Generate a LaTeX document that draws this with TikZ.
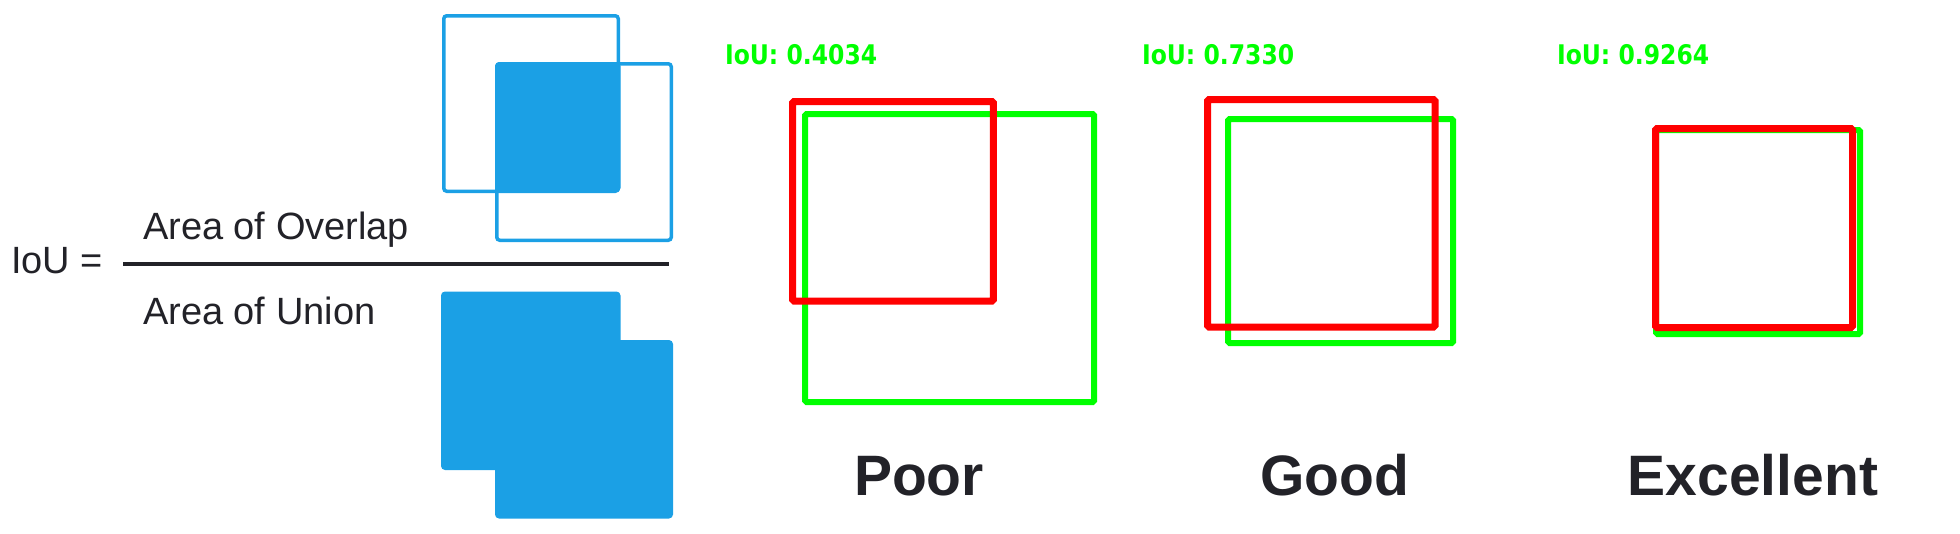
\documentclass[tikz,border=0pt]{standalone}
\usepackage{fontspec}
\usepackage{graphicx}
\setmainfont{Liberation Sans}
\newfontfamily\cvfont{DejaVu Sans}
\definecolor{iouBlue}{RGB}{27,160,229}
\definecolor{inkDark}{RGB}{34,34,40}
\definecolor{cvGreen}{RGB}{0,255,0}
\definecolor{cvRed}{RGB}{255,0,0}
\begin{document}
\begin{tikzpicture}[x=1pt,y=-1pt,
  txt/.style={inner sep=0pt, outer sep=0pt, text=inkDark},
  formula/.style={txt, anchor=base west, font=\fontsize{38}{40}\selectfont},
  verdict/.style={txt, anchor=base, font=\fontsize{57}{60}\selectfont\bfseries},
  score/.style={inner sep=0pt, outer sep=0pt, anchor=base west, text=cvGreen, font=\cvfont\bfseries\fontsize{23.5}{25}\selectfont},
  gtbox/.style={draw=cvGreen, line width=6pt, rounded corners=1.5pt},
  predbox/.style={draw=cvRed, line width=7pt, rounded corners=1.5pt},
  bluebox/.style={draw=iouBlue, line width=3.5pt, rounded corners=3pt},
  bluefill/.style={fill=iouBlue, rounded corners=4pt},
  fracline/.style={draw=inkDark, line width=3.4pt},
]
\useasboundingbox (0,0) rectangle (1960,533);

% formula
\node[formula] (iou) at (11,273) {IoU =};
\node[formula] (num) at (143,239) {Area of Overlap};
\node[formula] (den) at (143,324) {Area of Union};
\coordinate (fl) at (123,264);
\coordinate (fr) at (669,264);
\draw[fracline] (fl) -- (fr);

% overlap illustration
\fill[bluefill] (495,62) rectangle (620.5,192);
\draw[bluebox] (443.75,15.75) rectangle (618.25,191.25);
\draw[bluebox] (496.75,63.75) rectangle (671.25,240.25);

% union illustration
\fill[bluefill] (441,291.5) rectangle (620.5,470);
\fill[bluefill] (495,340) rectangle (673,518.5);

% Poor
\draw[gtbox] (805,114) rectangle (1094,402);
\draw[predbox] (792.5,101.5) rectangle (993.3,301);
% Good
\draw[gtbox] (1228,119) rectangle (1453,343);
\draw[predbox] (1207.5,99.5) rectangle (1435,327);
% Excellent
\draw[gtbox] (1656,130) rectangle (1860,334);
\draw[predbox] (1655.5,128.5) rectangle (1852.5,327.5);

% scores
\node[score] (s1) at (725,64) {\scalebox{1}[1.15]{IoU: 0.4034}};
\node[score] (s2) at (1142,64) {\scalebox{1}[1.15]{IoU: 0.7330}};
\node[score] (s3) at (1557,64) {\scalebox{1}[1.15]{IoU: 0.9264}};

% verdicts
\node[verdict] (poor) at (919,495) {Poor};
\node[verdict] (good) at (1334.5,495) {Good};
\node[verdict] (exc) at (1753,495) {Excellent};
\end{tikzpicture}
\end{document}
